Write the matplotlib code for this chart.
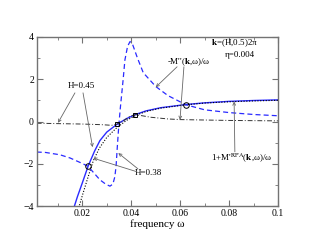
import numpy as np
import matplotlib.pyplot as plt

plt.rcParams['font.family'] = ['Liberation Serif', 'DejaVu Serif']
plt.rcParams['mathtext.fontset'] = 'stix'

# H=0.45, 1+M'/w (solid blue)
w_s = [0.0162, 0.018, 0.020, 0.0224, 0.025, 0.0272, 0.030, 0.0343, 0.038, 0.0415,
       0.046, 0.052, 0.0623, 0.07, 0.08, 0.09, 0.1]
y_s = [-4.2, -3.55, -2.9, -2.1, -1.4, -0.9, -0.5, -0.12, 0.13, 0.32,
       0.5, 0.65, 0.8, 0.88, 0.95, 0.99, 1.02]

# H=0.38, 1+M'/w (dotted black)
w_d = [0.0182, 0.020, 0.022, 0.0245, 0.027, 0.030, 0.034, 0.038, 0.042,
       0.046, 0.052, 0.0623, 0.07, 0.08, 0.09, 0.1]
y_d = [-4.2, -3.5, -2.75, -1.85, -1.25, -0.75, -0.3, 0.05, 0.3,
       0.47, 0.63, 0.79, 0.87, 0.93, 0.97, 1.0]

# H=0.38, -M''/w (dashed blue)
w_m = [0.0014, 0.005, 0.0109, 0.015, 0.0204, 0.0224, 0.0272, 0.0295, 0.0313, 0.0325,
       0.0333, 0.0338, 0.0343, 0.0349, 0.0355, 0.0361, 0.0367, 0.0374, 0.0385, 0.0395,
       0.0405, 0.0425, 0.0449, 0.050, 0.055, 0.0623, 0.07, 0.08, 0.09, 0.1]
y_m = [-1.44, -1.46, -1.57, -1.72, -2.0, -2.12, -2.75, -2.95, -3.05, -2.95,
       -2.6, -2.1, -1.2, -0.2, 0.6, 1.3, 2.0, 2.9, 3.55, 3.77,
       3.65, 3.0, 2.3, 1.65, 1.22, 0.79, 0.55, 0.42, 0.33, 0.27]

# H=0.45, -M''/w (dash-dot black)
w_c = [0.0014, 0.01, 0.02, 0.028, 0.032, 0.0343, 0.037, 0.0395, 0.0415, 0.044,
       0.048, 0.055, 0.06, 0.07, 0.08, 0.09, 0.1]
y_c = [-0.08, -0.1, -0.12, -0.15, -0.18, -0.12, 0.05, 0.25, 0.32, 0.28,
       0.2, 0.12, 0.09, 0.07, 0.05, 0.04, 0.03]

circ_w = [0.0224, 0.0623]
circ_y = [-2.12, 0.79]
sq_w = [0.0343, 0.0415]
sq_y = [-0.12, 0.32]

fig = plt.figure(figsize=(3.14, 2.43), dpi=100)
ax = fig.add_axes([0.117, 0.151, 0.769, 0.698])

ax.plot(w_s, y_s, color='#2a2aff', lw=1.0)
ax.plot(w_d, y_d, color='black', lw=0.8, ls=(0, (1, 1.5)))
ax.plot(w_m, y_m, color='#2a2aff', lw=0.9, ls=(0, (4, 2.5)))
ax.plot(w_c, y_c, color='#333333', lw=0.7, ls=(0, (5, 2, 1, 2)))
ax.plot(circ_w, circ_y, 'o', ms=4, mfc='none', mec='black', mew=0.7)
ax.plot(sq_w, sq_y, 's', ms=3.5, mfc='none', mec='black', mew=0.7)

ax.set_xlim(0.0014, 0.1)
ax.set_ylim(-4, 4)
ax.set_xticks([0.02, 0.04, 0.06, 0.08, 0.1])
ax.set_xticklabels(['0.02', '0.04', '0.06', '0.08', '0.1'])
ax.set_xticks([0.01, 0.03, 0.05, 0.07, 0.09], minor=True)
ax.set_yticks([-4, -2, 0, 2, 4])
ax.set_yticks([-3, -1, 1, 3], minor=True)
ax.tick_params(which='both', direction='in', top=True, right=True,
               labelsize=7, color='0.45', pad=2)
ax.tick_params(which='major', length=4)
ax.tick_params(which='minor', length=2)
for sp in ax.spines.values():
    sp.set_color('0.45')
    sp.set_linewidth(1.0)
ax.set_xlabel('frequency ω', fontsize=8, labelpad=1)

fs = 6.5
ax.text(0.0823, 3.71, r'$\mathbf{k}$=(H,0.5)2π', fontsize=fs, ha='center', va='center')
ax.text(0.0844, 3.15, 'η=0.004', fontsize=fs, ha='center', va='center')
ax.text(0.0636, 2.82, r"-M''($\mathbf{k}$,ω)/ω", fontsize=fs, ha='center', va='center')
ax.text(0.0195, 1.68, 'H=0.45', fontsize=fs, ha='center', va='center')
ax.text(0.0468, -2.42, 'H=0.38', fontsize=fs, ha='center', va='center')
ax.text(0.0852, -1.76, r"1+M'$^{\mathrm{RPA}}$($\mathbf{k}$,ω)/ω", fontsize=fs,
        ha='center', va='center')

arrows = [
    ((0.0170, 1.35), (0.0101, -0.06)),
    ((0.0203, 1.35), (0.0242, -1.21)),
    ((0.0423, -2.37), (0.0245, -1.73)),
    ((0.0427, -2.23), (0.0347, -1.49)),
    ((0.0587, 2.58), (0.0500, 1.62)),
    ((0.0615, 2.58), (0.0599, 0.08)),
    ((0.0823, -1.43), (0.0820, 0.94)),
]
for start, end in arrows:
    ax.annotate('', xy=end, xytext=start,
                arrowprops=dict(arrowstyle='->', color='0.4', lw=0.6,
                                shrinkA=0, shrinkB=0, mutation_scale=5))

fig.savefig('out.png', dpi=100)
